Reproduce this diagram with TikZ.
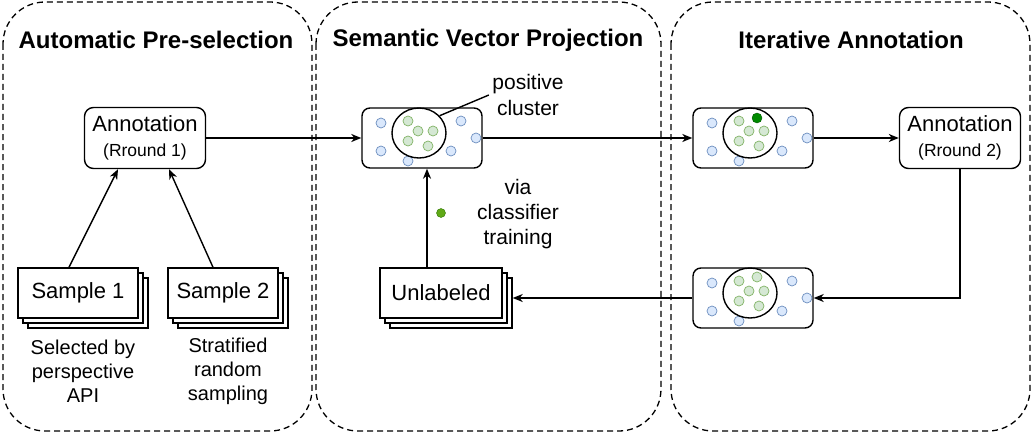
\documentclass[tikz,border=0pt]{standalone}
\usepackage{fontspec}
\setmainfont{Liberation Sans}
\usetikzlibrary{arrows.meta}
\usetikzlibrary{shapes.geometric}
\usetikzlibrary{shadows}

\definecolor{ptblue}{HTML}{DAE8FC}
\definecolor{ptblueline}{HTML}{6C8EBF}
\definecolor{ptgreen}{HTML}{D5E8D4}
\definecolor{ptgreenline}{HTML}{82B366}
\definecolor{newgreen}{HTML}{008A00}
\definecolor{newgreenline}{HTML}{005700}
\definecolor{seedgreen}{HTML}{60A917}
\definecolor{seedgreenline}{HTML}{2D7600}

\tikzset{
  panel/.style={dash pattern=on 6pt off 4pt, line width=1.3pt, rounded corners=42pt},
  headline/.style={font=\fontsize{24}{28}\selectfont\bfseries},
  box/.style={draw, line width=1.4pt, fill=white, rounded corners=9pt, minimum width=121pt,
    minimum height=61pt, align=center, font=\fontsize{22}{25}\selectfont},
  vecbox/.style={draw, line width=1.4pt, rounded corners=8pt, minimum width=120pt, minimum height=60pt},
  stack/.style={draw, line width=1.4pt, fill=white, minimum height=50pt, font=\fontsize{22}{25}\selectfont,
    copy shadow={shadow xshift=10pt, shadow yshift=-10pt, draw, fill=white, line width=1.4pt},
    copy shadow={shadow xshift=5pt, shadow yshift=-5pt, draw, fill=white, line width=1.4pt}},
  clus/.style={draw, ellipse, line width=1.4pt, minimum width=54pt, minimum height=50pt, inner sep=0pt},
  note/.style={align=center, font=\fontsize{20}{24}\selectfont},
  bluept/.style={draw=ptblueline, fill=ptblue, line width=0.7pt},
  greenpt/.style={draw=ptgreenline, fill=ptgreen, line width=0.7pt},
  link/.style={line width=1.4pt, -{Stealth[length=10pt, width=8pt, inset=3pt]}}
}

\begin{document}
\begin{tikzpicture}[x=1pt, y=-1pt]
  \useasboundingbox (0,0) rectangle (1032,433);
  % panels
  \draw[panel] (3,2) rectangle (312,431);
  \draw[panel] (316,2) rectangle (661,431);
  \draw[panel] (671,2) rectangle (1030,431);
  \node[headline] (head1) at (156,40) {Automatic Pre-selection};
  \node[headline] (head2) at (488,40) {Semantic Vector Projection};
  \node[headline] (head3) at (851,40) {Iterative Annotation};
  % pre-selection
  \node[box] (anno1) at (145,138) {Annotation\\{\fontsize{17.5}{20}\selectfont (Rround 1)}};
  \node[stack, minimum width=120pt] (samp1) at (78,293) {Sample 1};
  \node[stack, minimum width=110pt] (samp2) at (223,293) {Sample 2};
  \node[note] (api) at (83,371) {Selected by\\perspective\\API};
  \node[note] (strat) at (228,371) {Stratified\\random\\sampling};
  \draw[link] ([xshift=-9pt]samp1.north) -- ([xshift=-27pt]anno1.south);
  \draw[link] ([xshift=-10pt]samp2.north) -- ([xshift=24pt]anno1.south);
  % vector spaces
  \node[vecbox] (vec1) at (422,138) {};
  \node[vecbox] (vec2) at (753,138) {};
  \node[vecbox] (vec3) at (753,298) {};
  \foreach \bx/\by [count=\i] in {362/108, 693/108, 693/268} {
    \begin{scope}[shift={(\bx,\by)}]
      \foreach \px/\py in {19/15, 19/43, 46/53, 99/13, 114/30, 89/43}
        \draw[bluept] (\px,\py) circle [radius=5];
      \foreach \px/\py in {46/13, 56/23, 71/23, 46/33, 66/38}
        \draw[greenpt] (\px,\py) circle [radius=5];
      \node[clus] (clus\i) at (57,25) {};
    \end{scope}
  }
  % newly labeled point
  \draw[draw=newgreenline, fill=newgreen] (757,118) circle [radius=5];
  \draw[greenpt] (757,277) circle [radius=5];
  \node[note, font=\fontsize{21}{26}\selectfont] (pos) at (528,95) {positive\\cluster};
  \draw[line width=1.4pt] (clus1.40) -- (pos.west);
  \node[note, font=\fontsize{21}{25}\selectfont] (via) at (518,214) {via\\classifier\\training};
  \node[circle, draw=seedgreenline, fill=seedgreen, minimum size=9pt, inner sep=0pt] (seed) at (441,213) {};
  \node[stack, minimum width=122pt] (unl) at (441,293) {Unlabeled};
  % iterative annotation
  \node[box] (anno2) at (960,138) {Annotation\\{\fontsize{17.5}{20}\selectfont (Rround 2)}};
  % loop
  \draw[link] (anno1) -- (vec1);
  \draw[link] (vec1) -- (vec2);
  \draw[link] (vec2) -- (anno2);
  \draw[link] (anno2.south) |- (vec3.east);
  \draw[link] (vec3.west) -- ([xshift=10pt]unl.east |- vec3.west);
  \draw[link] ([xshift=5pt]vec1.south |- unl.north) -- ([xshift=5pt]vec1.south);
\end{tikzpicture}
\end{document}
